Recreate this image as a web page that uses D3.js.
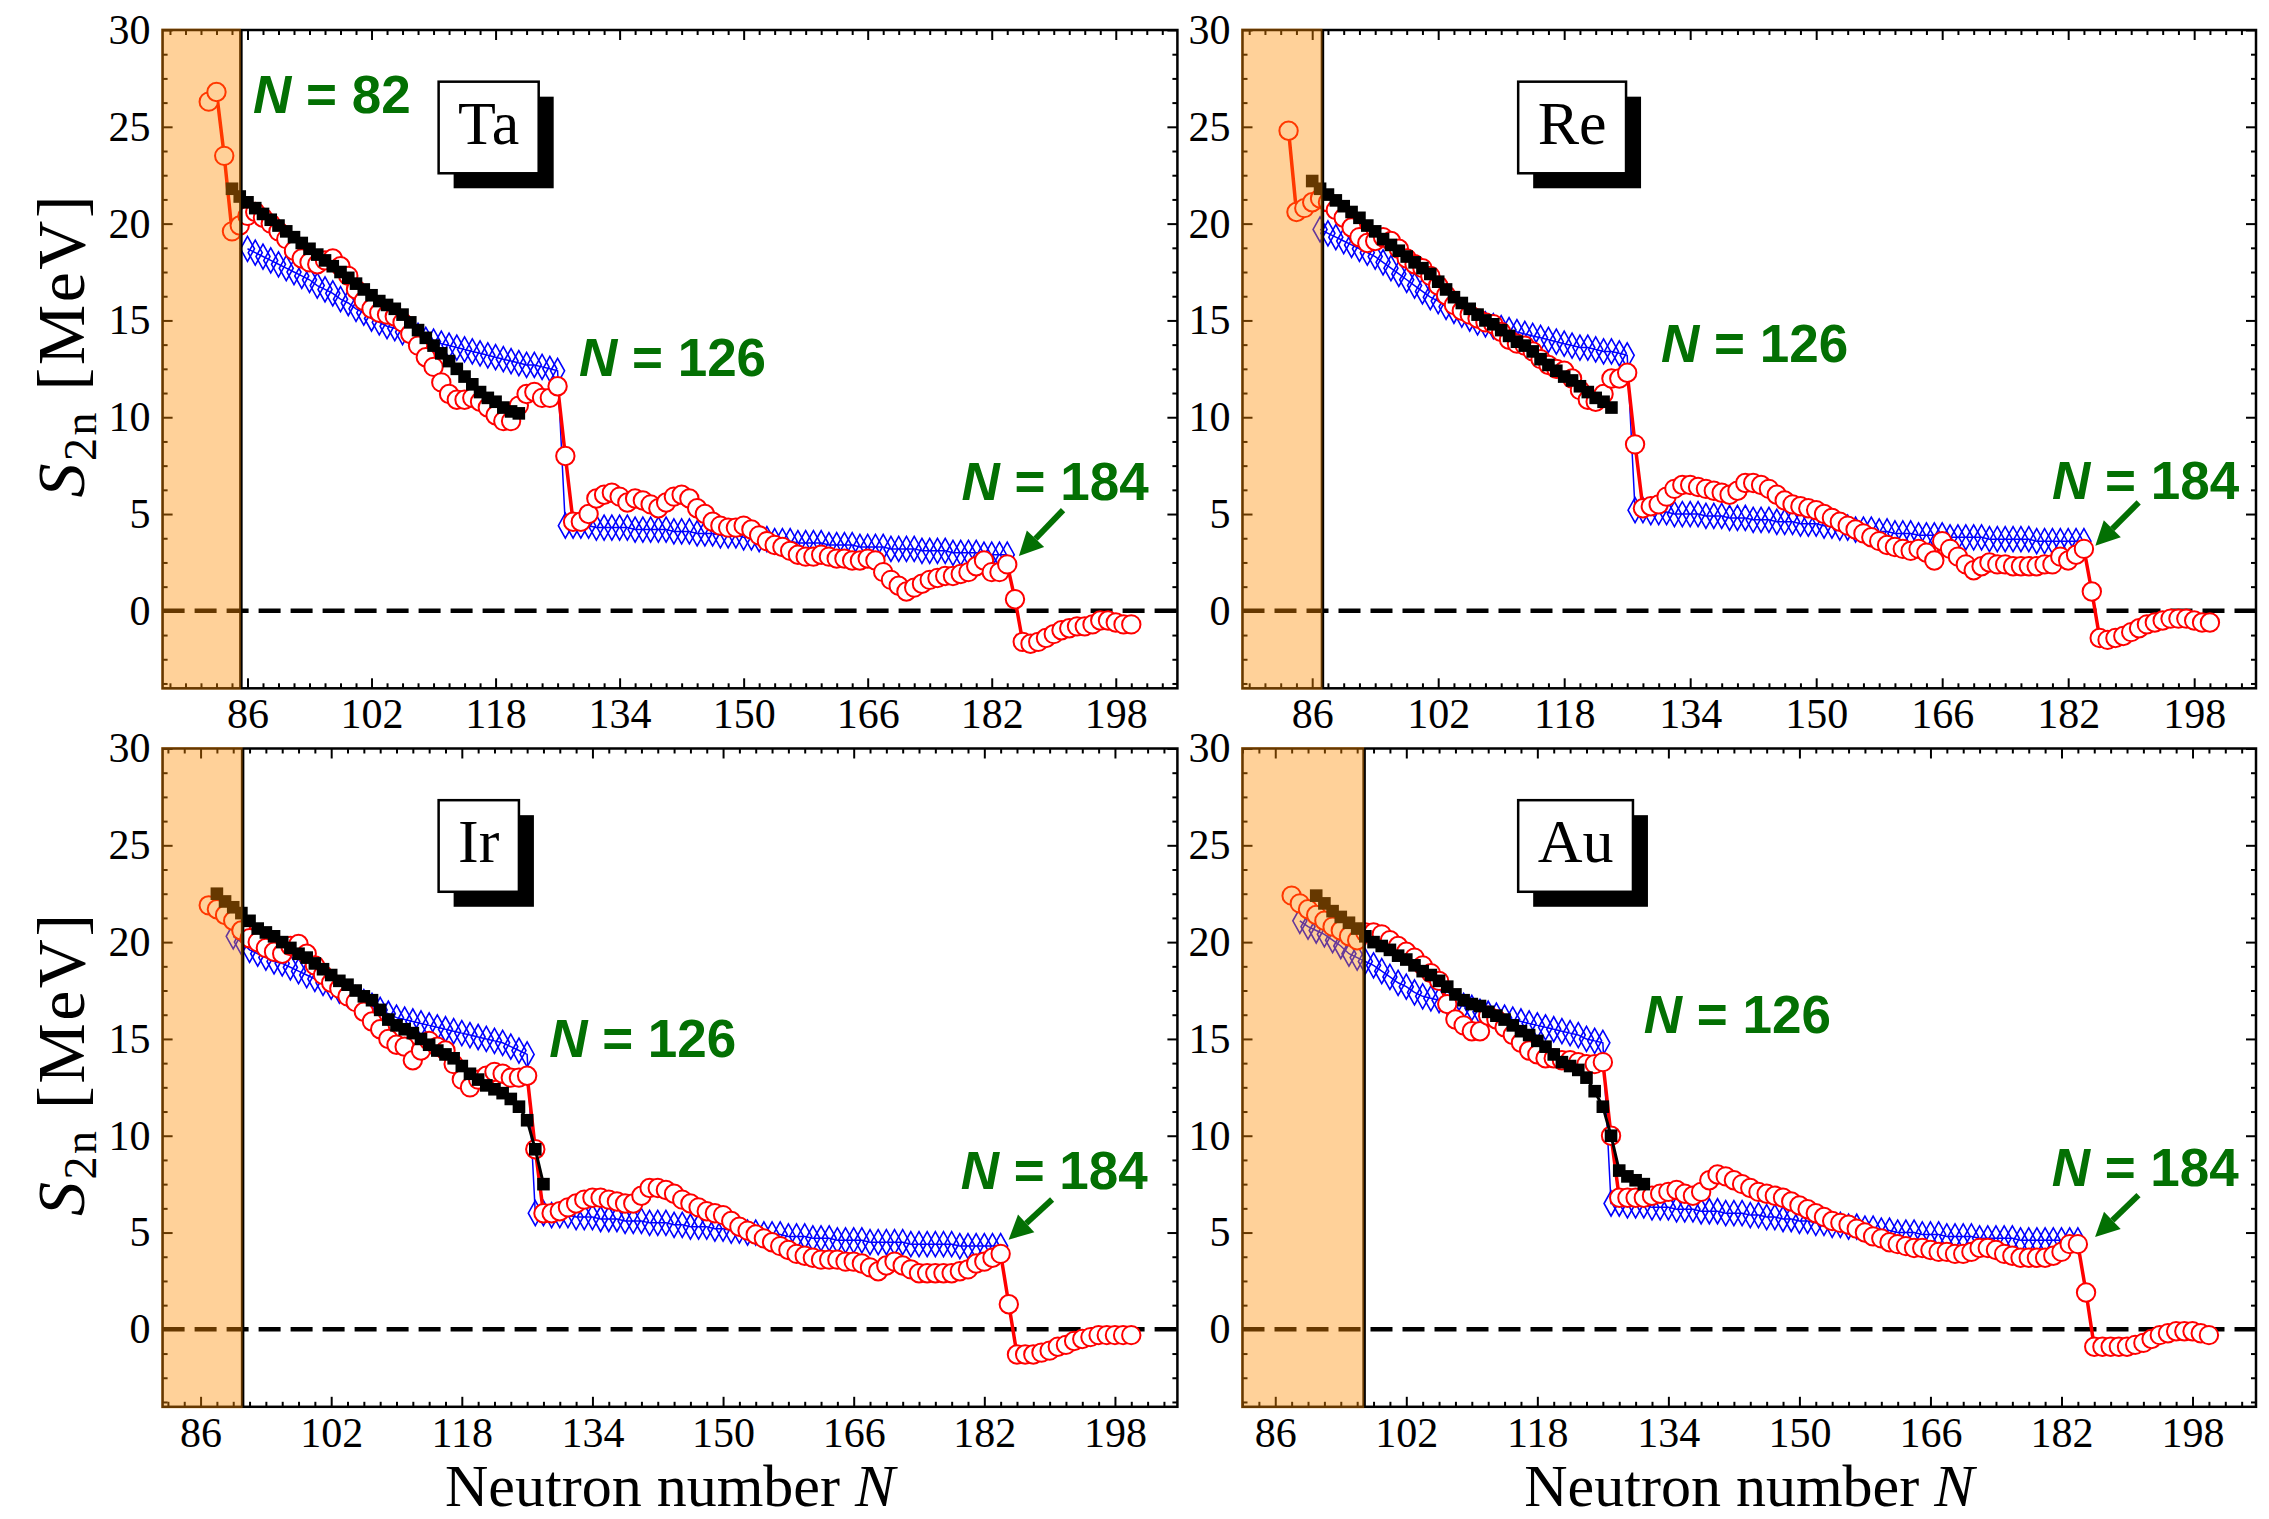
<!DOCTYPE html>
<html>
<head>
<meta charset="utf-8">
<script src="https://cdn.jsdelivr.net/npm/d3@7"></script>
<style>
  body { margin: 0; background: #fff; }
  svg { display: block; }
</style>
</head>
<body>
<script>
"use strict";

// ---- data: S2n [MeV] against neutron number N ----
const yTicks = [0, 5, 10, 15, 20, 25, 30];
const xTicks = [86, 102, 118, 134, 150, 166, 182, 198];

// Ta (Z = 73)
const taRedStart = 81;
const taRed = [26.3, 26.8, 23.5, 19.6, 19.9, 20.4, 20.6, 20.3, 20.0, 19.6, 19.2, 18.6, 18.2, 18.0, 17.9, 18.1, 18.2, 17.8, 17.3, 16.6,
  16.0, 15.6, 15.4, 15.3, 15.2, 14.9, 14.3, 13.7, 13.1, 12.6, 11.8, 11.2, 10.9, 10.9, 11.0, 10.8, 10.5, 10.1, 9.8, 9.8,
  10.6, 11.2, 11.3, 11.0, 11.0, 11.6, 8.0, 4.6, 4.6, 5.0, 5.8, 6.0, 6.1, 5.9, 5.6, 5.8, 5.7, 5.5, 5.3, 5.6,
  5.9, 6.0, 5.8, 5.3, 5.0, 4.6, 4.4, 4.3, 4.3, 4.4, 4.2, 3.9, 3.6, 3.4, 3.3, 3.1, 2.9, 2.8, 2.8, 2.9,
  2.8, 2.7, 2.7, 2.6, 2.6, 2.7, 2.6, 2.0, 1.6, 1.3, 1.0, 1.2, 1.4, 1.6, 1.7, 1.8, 1.8, 1.9, 2.0, 2.3,
  2.6, 2.0, 2.0, 2.4, 0.6, -1.6, -1.7, -1.6, -1.4, -1.2, -1.0, -0.9, -0.8, -0.8, -0.7, -0.5, -0.5, -0.6, -0.7, -0.7];
const taBlueStart = 86;
const taBlue = [18.7, 18.5, 18.3, 18.1, 17.9, 17.7, 17.5, 17.3, 17.1, 16.8, 16.6, 16.4, 16.1, 15.9, 15.6, 15.4, 15.1, 14.9, 14.7, 14.6,
  14.4, 14.3, 14.2, 14.0, 13.9, 13.8, 13.7, 13.6, 13.5, 13.4, 13.3, 13.2, 13.1, 13.0, 12.9, 12.8, 12.7, 12.7, 12.6, 12.5,
  12.4, 4.4, 4.4, 4.4, 4.4, 4.3, 4.3, 4.3, 4.3, 4.3, 4.2, 4.2, 4.2, 4.2, 4.2, 4.1, 4.1, 4.1, 4.0, 4.0,
  4.0, 3.9, 3.9, 3.9, 3.8, 3.8, 3.7, 3.7, 3.6, 3.6, 3.6, 3.5, 3.5, 3.5, 3.5, 3.4, 3.4, 3.4, 3.4, 3.3,
  3.3, 3.3, 3.3, 3.2, 3.2, 3.2, 3.2, 3.1, 3.1, 3.1, 3.1, 3.0, 3.0, 3.0, 3.0, 2.9, 2.9, 2.9, 2.9];
const taBlackStart = 84;
const taBlack = [21.8, 21.4, 21.1, 20.8, 20.5, 20.2, 19.9, 19.6, 19.3, 19.0, 18.7, 18.4, 18.1, 17.8, 17.5, 17.2, 16.9, 16.6, 16.3, 16.0,
  15.8, 15.6, 15.3, 14.9, 14.5, 14.1, 13.7, 13.3, 12.9, 12.5, 12.1, 11.7, 11.3, 11.0, 10.8, 10.5, 10.3, 10.2];

// Re (Z = 75)
const reRedStart = 83;
const reRed = [24.8, 20.6, 20.8, 21.1, 21.3, 21.1, 20.7, 20.3, 19.8, 19.3, 19.0, 19.1, 19.3, 19.1, 18.7, 18.2, 17.9, 17.7, 17.3, 16.8,
  16.3, 15.8, 15.5, 15.3, 15.1, 14.9, 14.8, 14.4, 14.0, 13.8, 13.7, 13.4, 13.0, 12.7, 12.5, 12.4, 12.0, 11.4, 10.9, 10.8,
  11.2, 12.0, 12.0, 12.3, 8.6, 5.3, 5.4, 5.5, 5.9, 6.3, 6.5, 6.5, 6.4, 6.3, 6.2, 6.1, 6.0, 6.2, 6.6, 6.6,
  6.5, 6.3, 6.0, 5.7, 5.5, 5.4, 5.3, 5.2, 5.0, 4.8, 4.6, 4.4, 4.2, 4.0, 3.8, 3.6, 3.4, 3.3, 3.2, 3.1,
  3.2, 3.0, 2.6, 3.6, 3.2, 2.8, 2.4, 2.1, 2.3, 2.5, 2.4, 2.4, 2.3, 2.3, 2.3, 2.3, 2.4, 2.4, 2.8, 2.6,
  2.9, 3.2, 1.0, -1.4, -1.5, -1.4, -1.3, -1.1, -0.9, -0.7, -0.6, -0.5, -0.4, -0.4, -0.4, -0.5, -0.6, -0.6];
const reBlueStart = 87;
const reBlue = [19.7, 19.5, 19.3, 19.1, 18.9, 18.7, 18.5, 18.3, 18.0, 17.7, 17.4, 17.1, 16.8, 16.5, 16.2, 16.0, 15.7, 15.5, 15.3, 15.1,
  14.9, 14.8, 14.7, 14.6, 14.5, 14.4, 14.3, 14.2, 14.1, 14.0, 13.9, 13.8, 13.7, 13.6, 13.6, 13.5, 13.4, 13.4, 13.3, 13.2,
  5.2, 5.2, 5.1, 5.1, 5.1, 5.0, 5.0, 5.0, 5.0, 4.9, 4.9, 4.9, 4.8, 4.8, 4.8, 4.7, 4.7, 4.7, 4.6, 4.6,
  4.6, 4.5, 4.5, 4.5, 4.4, 4.4, 4.3, 4.3, 4.2, 4.2, 4.2, 4.1, 4.1, 4.0, 4.0, 4.0, 3.9, 3.9, 3.9, 3.9,
  3.8, 3.8, 3.8, 3.8, 3.8, 3.7, 3.7, 3.7, 3.7, 3.7, 3.7, 3.6, 3.6, 3.6, 3.6, 3.6, 3.6, 3.6];
const reBlackStart = 86;
const reBlack = [22.2, 21.8, 21.5, 21.2, 20.9, 20.6, 20.3, 19.9, 19.6, 19.2, 18.9, 18.6, 18.3, 18.0, 17.7, 17.4, 17.0, 16.6, 16.2, 15.9,
  15.6, 15.3, 15.0, 14.8, 14.5, 14.2, 13.9, 13.7, 13.4, 13.0, 12.7, 12.4, 12.1, 11.9, 11.6, 11.3, 11.0, 10.8, 10.5];

// Ir (Z = 77)
const irRedStart = 87;
const irRed = [21.9, 21.7, 21.4, 21.1, 20.6, 20.2, 20.0, 19.7, 19.5, 19.4, 19.8, 19.9, 19.4, 18.8, 18.3, 17.9, 17.6, 17.2, 16.9, 16.4,
  15.9, 15.5, 15.0, 14.7, 14.6, 13.9, 14.4, 14.9, 14.6, 14.4, 13.7, 12.9, 12.5, 12.9, 13.1, 13.3, 13.2, 13.0, 13.0, 13.1,
  9.3, 6.0, 6.0, 6.1, 6.3, 6.5, 6.7, 6.8, 6.8, 6.7, 6.6, 6.5, 6.5, 6.9, 7.3, 7.3, 7.2, 7.0, 6.7, 6.5,
  6.3, 6.1, 6.0, 5.9, 5.6, 5.3, 5.1, 4.9, 4.7, 4.5, 4.3, 4.1, 3.9, 3.8, 3.7, 3.6, 3.6, 3.6, 3.5, 3.5,
  3.4, 3.2, 3.0, 3.3, 3.5, 3.3, 3.1, 2.9, 2.9, 2.9, 2.9, 2.9, 3.0, 3.1, 3.4, 3.5, 3.7, 3.9, 1.3, -1.3,
  -1.3, -1.3, -1.2, -1.1, -0.9, -0.8, -0.6, -0.5, -0.4, -0.3, -0.3, -0.3, -0.3, -0.3];
const irBlueStart = 90;
const irBlue = [20.3, 20.0, 19.6, 19.4, 19.2, 19.0, 18.9, 18.7, 18.5, 18.3, 18.1, 17.9, 17.7, 17.5, 17.3, 17.1, 16.9, 16.7, 16.5, 16.3,
  16.1, 16.0, 15.9, 15.8, 15.7, 15.6, 15.5, 15.4, 15.3, 15.2, 15.1, 15.0, 14.9, 14.8, 14.6, 14.4, 14.2,
  6.0, 6.0, 5.9, 5.9, 5.9, 5.8, 5.8, 5.8, 5.7, 5.7, 5.7, 5.6, 5.6, 5.6, 5.5, 5.5, 5.5, 5.4, 5.4, 5.3,
  5.3, 5.3, 5.2, 5.2, 5.1, 5.1, 5.0, 5.0, 4.9, 4.9, 4.9, 4.8, 4.8, 4.8, 4.7, 4.7, 4.7, 4.6, 4.6, 4.6,
  4.6, 4.5, 4.5, 4.5, 4.5, 4.5, 4.4, 4.4, 4.4, 4.4, 4.4, 4.4, 4.3, 4.3, 4.3, 4.3, 4.3, 4.3];
const irBlackStart = 88;
const irBlack = [22.5, 22.1, 21.8, 21.5, 21.1, 20.7, 20.5, 20.3, 20.0, 19.7, 19.4, 19.2, 18.9, 18.6, 18.3, 18.0, 17.8, 17.5, 17.2, 17.0,
  16.5, 16.0, 15.7, 15.5, 15.3, 15.0, 14.7, 14.4, 14.2, 14.0, 13.6, 13.2, 12.9, 12.6, 12.4, 12.2, 11.9, 11.5, 10.8, 9.3, 7.5];

// Au (Z = 79)
const auRedStart = 88;
const auRed = [22.4, 22.0, 21.7, 21.4, 21.1, 20.8, 20.6, 20.3, 20.1, 20.5, 20.5, 20.4, 20.1, 19.8, 19.5, 19.2, 18.8, 18.4, 18.0, 16.8,
  16.0, 15.7, 15.4, 15.4, 16.2, 16.0, 15.6, 15.2, 14.8, 14.4, 14.2, 14.0, 14.0, 13.9, 13.9, 13.8, 13.7, 13.7, 13.8, 10.0,
  6.8, 6.8, 6.8, 6.8, 6.9, 7.0, 7.1, 7.2, 7.0, 6.9, 7.1, 7.7, 8.0, 7.9, 7.7, 7.5, 7.3, 7.1, 7.0, 6.9,
  6.8, 6.6, 6.4, 6.2, 6.0, 5.8, 5.6, 5.5, 5.4, 5.2, 5.0, 4.8, 4.7, 4.5, 4.4, 4.3, 4.2, 4.2, 4.1, 4.0,
  4.0, 3.9, 3.9, 4.0, 4.2, 4.2, 4.1, 3.9, 3.8, 3.7, 3.7, 3.7, 3.7, 3.8, 4.0, 4.4, 4.4, 1.9, -0.9, -0.9,
  -0.9, -0.9, -0.9, -0.8, -0.7, -0.5, -0.3, -0.2, -0.1, -0.1, -0.1, -0.2, -0.3];
const auBlueStart = 89;
const auBlue = [21.1, 20.8, 20.6, 20.4, 20.1, 19.8, 19.4, 19.2, 19.0, 18.8, 18.5, 18.2, 17.9, 17.7, 17.4, 17.2, 17.1, 17.0, 16.9, 16.8,
  16.7, 16.6, 16.4, 16.3, 16.2, 16.1, 16.0, 15.9, 15.8, 15.7, 15.6, 15.5, 15.4, 15.3, 15.2, 15.0, 14.9, 14.8,
  6.5, 6.5, 6.4, 6.4, 6.4, 6.3, 6.3, 6.3, 6.2, 6.2, 6.2, 6.1, 6.1, 6.1, 6.0, 6.0, 6.0, 5.9, 5.9, 5.8,
  5.8, 5.7, 5.7, 5.6, 5.6, 5.5, 5.5, 5.4, 5.4, 5.3, 5.3, 5.2, 5.2, 5.1, 5.1, 5.0, 5.0, 5.0, 4.9, 4.9,
  4.9, 4.8, 4.8, 4.8, 4.8, 4.7, 4.7, 4.7, 4.7, 4.7, 4.6, 4.6, 4.6, 4.6, 4.6, 4.6, 4.6, 4.6];
const auBlackStart = 91;
const auBlack = [22.4, 22.0, 21.6, 21.3, 21.0, 20.7, 20.3, 20.0, 19.8, 19.6, 19.3, 19.1, 18.8, 18.5, 18.3, 18.0, 17.7, 17.3, 17.0, 16.8,
  16.7, 16.4, 16.2, 16.0, 15.7, 15.4, 15.2, 14.9, 14.6, 14.2, 13.8, 13.6, 13.4, 13.0, 12.3, 11.5, 10.0, 8.2, 7.9, 7.7, 7.5];

// ---- layout ----
const W = 2269, H = 1519;
const plotH = 658.3;
const serif = "'Liberation Serif', 'DejaVu Serif', serif";
const sans = "'Liberation Sans', Arial, sans-serif";
const green = "#037003";

function series(start, vals) {
  return vals.map(function(v, i) { return {n: start + i, v: v}; });
}

const panels = [
  {name: "Ta", left: 162.6, top: 30, width: 1014.8, xDomain: [75.05, 205.95], shade: 85.15,
   red: series(taRedStart, taRed), blue: series(taBlueStart, taBlue), black: series(taBlackStart, taBlack),
   labels: [["82", 86.71, 25.7], ["126", 128.76, 12.13], ["184", 178.1, 5.72]],
   arrow: [191.2, 5.2, 185.5, 2.83], yTitle: true, xTitle: false},
  {name: "Re", left: 1242.5, top: 30, width: 1013.5, xDomain: [77.15, 205.85], shade: 87.3,
   red: series(reRedStart, reRed), blue: series(reBlueStart, reBlue), black: series(reBlackStart, reBlack),
   labels: [["126", 130.3, 12.87], ["184", 179.95, 5.77]],
   arrow: [190.95, 5.6, 185.45, 3.36], yTitle: false, xTitle: false},
  {name: "Ir", left: 162.6, top: 748.5, width: 1014.8, xDomain: [81.35, 205.65], shade: 91.15,
   red: series(irRedStart, irRed), blue: series(irBlueStart, irBlue), black: series(irBlackStart, irBlack),
   labels: [["126", 128.7, 14.09], ["184", 179.1, 7.23]],
   arrow: [190.3, 6.71, 184.97, 4.63], yTitle: true, xTitle: true},
  {name: "Au", left: 1242.5, top: 748.5, width: 1013.5, xDomain: [82.0, 205.75], shade: 96.85,
   red: series(auRedStart, auRed), blue: series(auBlueStart, auBlue), black: series(auBlackStart, auBlack),
   labels: [["126", 131.0, 15.31], ["184", 180.8, 7.39]],
   arrow: [191.4, 6.93, 186.1, 4.77], yTitle: false, xTitle: true}
];

const svg = d3.select("body").append("svg")
  .attr("width", W)
  .attr("height", H)
  .attr("font-family", serif);

svg.append("rect").attr("width", W).attr("height", H).attr("fill", "#fff");

const diamond = "M0,-12.5L7,0L0,12.5L-7,0Z";

panels.forEach(function(p, i) {
  const w = p.width, h = plotH;
  const g = svg.append("g").attr("transform", "translate(" + p.left + "," + p.top + ")");
  const x = d3.scaleLinear().domain(p.xDomain).range([0, w]);
  const y = d3.scaleLinear().domain([-4, 30]).range([h, 0]);

  g.append("clipPath").attr("id", "clip" + i)
    .append("rect").attr("width", w).attr("height", h);
  const plot = g.append("g").attr("clip-path", "url(#clip" + i + ")");

  // zero line
  plot.append("line")
    .attr("x1", 0).attr("x2", w)
    .attr("y1", y(0)).attr("y2", y(0))
    .attr("stroke", "#000")
    .attr("stroke-width", 4.5)
    .attr("stroke-dasharray", "22,10");

  const line = d3.line().x(function(d) { return x(d.n); }).y(function(d) { return y(d.v); });

  // blue diamonds
  plot.append("path").attr("d", line(p.blue))
    .attr("fill", "none").attr("stroke", "#0000ff").attr("stroke-width", 1.5);
  plot.selectAll("path.dia").data(p.blue).enter()
    .append("path")
      .attr("class", "dia")
      .attr("d", diamond)
      .attr("transform", function(d) { return "translate(" + x(d.n) + "," + y(d.v) + ")"; })
      .attr("fill", "none")
      .attr("stroke", "#0000ff")
      .attr("stroke-width", 1.6);

  // red circles
  plot.append("path").attr("d", line(p.red))
    .attr("fill", "none").attr("stroke", "#ff0000").attr("stroke-width", 3.5);
  plot.selectAll("circle.red").data(p.red).enter()
    .append("circle")
      .attr("class", "red")
      .attr("cx", function(d) { return x(d.n); })
      .attr("cy", function(d) { return y(d.v); })
      .attr("r", 9.2)
      .attr("fill", "#fff")
      .attr("stroke", "#ff0000")
      .attr("stroke-width", 2);

  // black squares
  plot.append("path").attr("d", line(p.black))
    .attr("fill", "none").attr("stroke", "#000").attr("stroke-width", 3);
  plot.selectAll("rect.sq").data(p.black).enter()
    .append("rect")
      .attr("class", "sq")
      .attr("x", function(d) { return x(d.n) - 6.3; })
      .attr("y", function(d) { return y(d.v) - 6.3; })
      .attr("width", 12.6)
      .attr("height", 12.6)
      .attr("fill", "#000");

  // boundary line
  g.append("line")
    .attr("x1", x(p.shade)).attr("x2", x(p.shade))
    .attr("y1", 0).attr("y2", h)
    .attr("stroke", "#000").attr("stroke-width", 3.5);

  // axes, ticks pointing inward on all four sides
  const xMinor = d3.range(Math.ceil(p.xDomain[0] / 2) * 2, p.xDomain[1], 2)
    .filter(function(v) { return xTicks.indexOf(v) < 0; });
  const yMinor = d3.range(-3.75, 30, 1.25).filter(function(v) { return v % 5 !== 0; });

  function axis(gen, tr, size, labels) {
    const a = g.append("g").attr("transform", tr).call(gen.tickSizeOuter(0).tickSize(-size));
    a.select(".domain").remove();
    a.selectAll("line").attr("stroke", "#000").attr("stroke-width", 2);
    if (!labels) a.selectAll("text").remove();
    return a;
  }

  const xb = axis(d3.axisBottom(x).tickValues(xTicks).tickPadding(10).tickFormat(d3.format("d")), "translate(0," + h + ")", 10, true);
  xb.attr("font-family", serif).attr("font-size", 42);
  xb.selectAll("text").attr("fill", "#000");
  axis(d3.axisBottom(x).tickValues(xMinor), "translate(0," + h + ")", 5, false);
  axis(d3.axisTop(x).tickValues(xTicks), "translate(0,0)", 10, false);
  axis(d3.axisTop(x).tickValues(xMinor), "translate(0,0)", 5, false);

  const yl = axis(d3.axisLeft(y).tickValues(yTicks).tickPadding(12), "translate(0,0)", 10, true);
  yl.attr("font-family", serif).attr("font-size", 42);
  yl.selectAll("text").attr("fill", "#000");
  axis(d3.axisLeft(y).tickValues(yMinor), "translate(0,0)", 5, false);
  axis(d3.axisRight(y).tickValues(yTicks), "translate(" + w + ",0)", 10, false);
  axis(d3.axisRight(y).tickValues(yMinor), "translate(" + w + ",0)", 5, false);

  g.append("rect")
    .attr("width", w).attr("height", h)
    .attr("fill", "none").attr("stroke", "#000").attr("stroke-width", 2.5);

  // shaded region, drawn over everything in it
  g.append("rect")
    .attr("x", -1.5).attr("y", -1.5)
    .attr("width", x(p.shade) + 1.5).attr("height", h + 3)
    .attr("fill", "#ff8c00").attr("opacity", 0.4);

  // magic number labels
  p.labels.forEach(function(l) {
    const t = g.append("text")
      .attr("x", x(l[1])).attr("y", y(l[2]))
      .attr("font-family", sans)
      .attr("font-weight", "bold")
      .attr("font-size", 53)
      .attr("fill", green);
    t.append("tspan").attr("font-style", "italic").text("N");
    t.append("tspan").text(" = " + l[0]);
  });

  // arrow towards N = 184
  const x1 = x(p.arrow[0]), y1 = y(p.arrow[1]), x2 = x(p.arrow[2]), y2 = y(p.arrow[3]);
  const ang = Math.atan2(y2 - y1, x2 - x1);
  const hl = 24, hw = 12;
  const bx = x2 - hl * Math.cos(ang), by = y2 - hl * Math.sin(ang);
  g.append("line")
    .attr("x1", x1).attr("y1", y1).attr("x2", bx).attr("y2", by)
    .attr("stroke", green).attr("stroke-width", 6);
  g.append("path")
    .attr("d", "M" + x2 + "," + y2 +
      "L" + (bx + hw * Math.sin(ang)) + "," + (by - hw * Math.cos(ang)) +
      "L" + (bx - hw * Math.sin(ang)) + "," + (by + hw * Math.cos(ang)) + "Z")
    .attr("fill", green);

  // element box with shadow
  const bxl = 0.272 * w, byt = 0.0785 * h, bh = 91.6;
  const label = g.append("text")
    .attr("font-family", serif)
    .attr("font-size", 62)
    .attr("fill", "#000")
    .text(p.name);
  const tw = label.node().getComputedTextLength();
  const bw = tw + 39;
  g.insert("rect", function() { return label.node(); })
    .attr("x", bxl + 15).attr("y", byt + 15)
    .attr("width", bw).attr("height", bh)
    .attr("fill", "#000");
  g.insert("rect", function() { return label.node(); })
    .attr("x", bxl).attr("y", byt)
    .attr("width", bw).attr("height", bh)
    .attr("fill", "#fff").attr("stroke", "#000").attr("stroke-width", 2.5);
  label.attr("x", bxl + bw / 2).attr("y", byt + 62).attr("text-anchor", "middle");

  // axis titles
  if (p.yTitle) {
    const yt = svg.append("text")
      .attr("transform", "translate(84," + (p.top + h / 2 - 14) + ") rotate(-90)")
      .attr("text-anchor", "middle")
      .attr("font-size", 68)
      .attr("letter-spacing", 2.5)
      .attr("fill", "#000");
    yt.append("tspan").attr("font-style", "italic").text("S");
    yt.append("tspan").attr("font-size", 46).attr("dy", 12).text("2n");
    yt.append("tspan").attr("dy", -12).text(" [MeV]");
  }
  if (p.xTitle) {
    const xt = svg.append("text")
      .attr("x", p.left + w / 2).attr("y", 1506)
      .attr("text-anchor", "middle")
      .attr("font-size", 60)
      .attr("fill", "#000");
    xt.append("tspan").text("Neutron number ");
    xt.append("tspan").attr("font-style", "italic").text("N");
  }
});
</script>
</body>
</html>
